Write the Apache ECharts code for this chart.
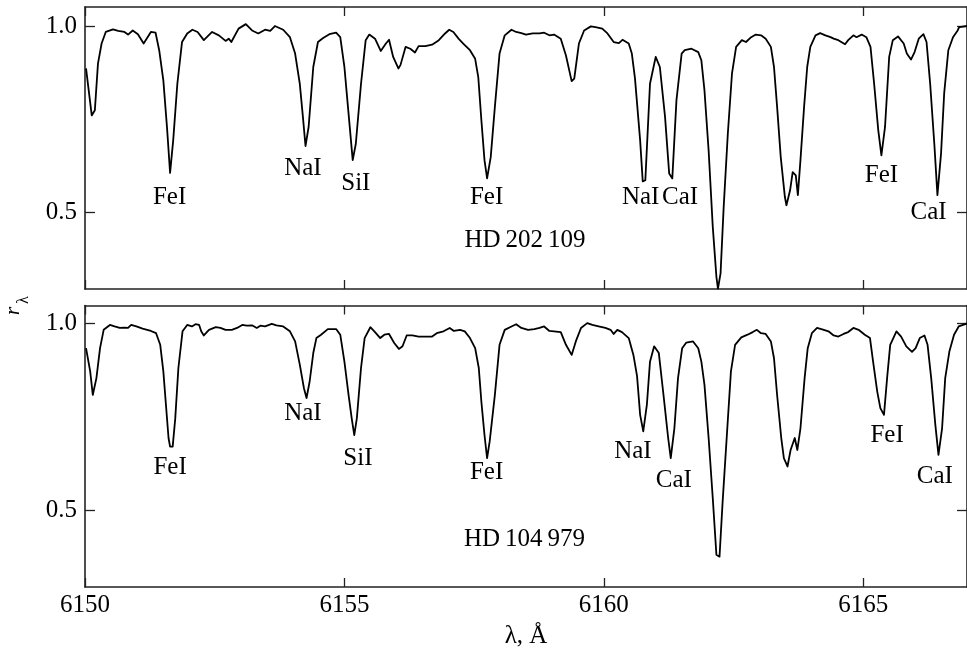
<!DOCTYPE html>
<html>
<head>
<meta charset="utf-8">
<script src="https://cdn.jsdelivr.net/npm/echarts@6/dist/echarts.min.js"></script>
<style>
  html, body { margin: 0; padding: 0; background: #fff; }
  #chart { width: 967px; height: 652px; }
</style>
</head>
<body>
<div id="chart"></div>
<script>
// Residual intensity r_lambda versus wavelength (Angstrom) for two stars.
const waveTicks = [6150, 6155, 6160, 6165];
const fluxTicks = [0.5, 1.0];

// [wavelength, r_lambda]
const topSpectrum = [
  [6150.02,0.886],[6150.13,0.760],[6150.19,0.774],[6150.25,0.899],[6150.32,0.953],[6150.40,0.984],
  [6150.54,0.991],[6150.64,0.987],[6150.76,0.984],[6150.83,0.977],[6150.92,0.988],[6151.02,0.978],
  [6151.13,0.953],[6151.27,0.984],[6151.36,0.982],[6151.43,0.935],[6151.51,0.854],[6151.58,0.729],
  [6151.64,0.606],[6151.70,0.693],[6151.78,0.845],[6151.87,0.957],[6151.97,0.980],[6152.07,0.990],
  [6152.17,0.984],[6152.29,0.962],[6152.45,0.984],[6152.58,0.975],[6152.71,0.960],[6152.77,0.966],
  [6152.82,0.957],[6152.96,0.993],[6153.10,1.005],[6153.22,0.988],[6153.34,0.980],[6153.47,0.990],
  [6153.57,0.987],[6153.66,1.000],[6153.82,0.990],[6153.95,0.970],[6154.05,0.926],[6154.14,0.845],
  [6154.20,0.756],[6154.25,0.678],[6154.31,0.729],[6154.40,0.890],[6154.49,0.957],[6154.59,0.968],
  [6154.71,0.978],[6154.84,0.982],[6154.92,0.970],[6155.00,0.890],[6155.08,0.765],[6155.16,0.640],
  [6155.22,0.684],[6155.32,0.845],[6155.41,0.962],[6155.48,0.977],[6155.59,0.966],[6155.70,0.933],
  [6155.80,0.953],[6155.86,0.963],[6155.94,0.917],[6156.04,0.886],[6156.08,0.895],[6156.18,0.944],
  [6156.27,0.939],[6156.36,0.929],[6156.43,0.946],[6156.56,0.946],[6156.69,0.950],[6156.82,0.962],
  [6156.94,0.980],[6157.02,0.990],[6157.10,0.984],[6157.20,0.966],[6157.29,0.953],[6157.42,0.935],
  [6157.52,0.912],[6157.58,0.863],[6157.64,0.747],[6157.70,0.640],[6157.75,0.591],[6157.82,0.648],
  [6157.90,0.783],[6157.99,0.926],[6158.09,0.975],[6158.22,0.990],[6158.31,0.984],[6158.41,0.981],
  [6158.50,0.977],[6158.63,0.980],[6158.76,0.980],[6158.85,0.982],[6158.95,0.975],[6159.04,0.977],
  [6159.17,0.966],[6159.27,0.921],[6159.38,0.852],[6159.43,0.859],[6159.52,0.953],[6159.62,0.988],
  [6159.75,0.999],[6159.84,0.997],[6159.97,0.993],[6160.07,0.980],[6160.19,0.957],[6160.29,0.954],
  [6160.36,0.963],[6160.48,0.953],[6160.54,0.926],[6160.60,0.860],[6160.70,0.693],[6160.75,0.583],
  [6160.80,0.586],[6160.89,0.845],[6161.00,0.917],[6161.08,0.890],[6161.18,0.756],[6161.26,0.604],
  [6161.32,0.591],[6161.40,0.801],[6161.50,0.926],[6161.56,0.935],[6161.69,0.939],[6161.82,0.930],
  [6161.88,0.908],[6161.94,0.827],[6162.02,0.666],[6162.10,0.461],[6162.17,0.327],[6162.20,0.295],
  [6162.25,0.336],[6162.31,0.514],[6162.39,0.711],[6162.47,0.872],[6162.55,0.944],[6162.66,0.962],
  [6162.74,0.957],[6162.84,0.970],[6162.93,0.977],[6163.03,0.975],[6163.12,0.966],[6163.22,0.944],
  [6163.28,0.890],[6163.34,0.783],[6163.41,0.648],[6163.49,0.541],[6163.52,0.519],[6163.59,0.559],
  [6163.64,0.608],[6163.70,0.599],[6163.74,0.546],[6163.79,0.640],[6163.86,0.783],[6163.92,0.890],
  [6163.98,0.944],[6164.08,0.975],[6164.17,0.981],[6164.27,0.975],[6164.37,0.970],[6164.43,0.966],
  [6164.52,0.962],[6164.65,0.951],[6164.71,0.962],[6164.81,0.975],[6164.87,0.970],[6164.97,0.977],
  [6165.06,0.970],[6165.14,0.944],[6165.21,0.845],[6165.29,0.720],[6165.35,0.653],[6165.42,0.729],
  [6165.50,0.917],[6165.57,0.962],[6165.67,0.972],[6165.78,0.953],[6165.84,0.926],[6165.92,0.910],
  [6165.99,0.930],[6166.07,0.966],[6166.16,0.978],[6166.22,0.957],[6166.29,0.845],[6166.37,0.684],
  [6166.43,0.546],[6166.50,0.658],[6166.56,0.819],[6166.64,0.935],[6166.73,0.970],[6166.82,0.988],
  [6166.85,0.997],[6167.00,1.000]
];

const bottomSpectrum = [
  [6150.02,0.934],[6150.10,0.872],[6150.15,0.809],[6150.22,0.854],[6150.29,0.934],[6150.36,0.983],
  [6150.48,0.996],[6150.57,0.992],[6150.67,0.988],[6150.76,0.989],[6150.83,0.988],[6150.89,0.996],
  [6150.99,0.992],[6151.11,0.986],[6151.27,0.980],[6151.37,0.974],[6151.45,0.943],[6151.51,0.872],
  [6151.56,0.783],[6151.61,0.694],[6151.64,0.671],[6151.69,0.671],[6151.74,0.747],[6151.80,0.881],
  [6151.88,0.979],[6151.97,0.996],[6152.06,0.992],[6152.13,0.998],[6152.20,0.996],[6152.24,0.979],
  [6152.29,0.968],[6152.39,0.983],[6152.52,0.990],[6152.61,0.988],[6152.71,0.983],[6152.83,0.983],
  [6152.93,0.988],[6153.03,0.996],[6153.12,0.994],[6153.22,0.995],[6153.31,0.988],[6153.38,0.994],
  [6153.47,0.992],[6153.60,0.999],[6153.69,0.995],[6153.82,0.992],[6153.95,0.979],[6154.05,0.952],
  [6154.14,0.890],[6154.22,0.827],[6154.27,0.801],[6154.33,0.845],[6154.40,0.921],[6154.46,0.961],
  [6154.55,0.970],[6154.68,0.985],[6154.84,0.985],[6154.92,0.970],[6155.00,0.898],[6155.08,0.809],
  [6155.14,0.747],[6155.19,0.702],[6155.24,0.747],[6155.32,0.881],[6155.39,0.961],[6155.50,0.990],
  [6155.59,0.977],[6155.69,0.961],[6155.77,0.970],[6155.86,0.972],[6155.96,0.948],[6156.05,0.932],
  [6156.12,0.939],[6156.20,0.968],[6156.31,0.968],[6156.43,0.965],[6156.56,0.965],[6156.69,0.965],
  [6156.78,0.974],[6156.91,0.979],[6157.03,0.988],[6157.11,0.980],[6157.23,0.983],[6157.32,0.979],
  [6157.42,0.961],[6157.52,0.934],[6157.59,0.881],[6157.64,0.791],[6157.70,0.702],[6157.75,0.640],
  [6157.80,0.685],[6157.90,0.809],[6157.99,0.943],[6158.09,0.983],[6158.22,0.992],[6158.31,0.998],
  [6158.41,0.988],[6158.54,0.983],[6158.66,0.985],[6158.76,0.988],[6158.85,0.992],[6158.95,0.980],
  [6159.04,0.979],[6159.17,0.977],[6159.27,0.943],[6159.38,0.916],[6159.46,0.952],[6159.56,0.988],
  [6159.68,1.001],[6159.78,0.996],[6159.90,0.992],[6160.03,0.988],[6160.13,0.983],[6160.19,0.972],
  [6160.26,0.983],[6160.35,0.977],[6160.48,0.961],[6160.57,0.916],[6160.64,0.860],[6160.70,0.756],
  [6160.76,0.712],[6160.83,0.783],[6160.89,0.898],[6160.97,0.939],[6161.06,0.921],[6161.15,0.809],
  [6161.24,0.694],[6161.29,0.640],[6161.36,0.720],[6161.43,0.854],[6161.51,0.934],[6161.59,0.949],
  [6161.72,0.952],[6161.82,0.934],[6161.88,0.898],[6161.94,0.836],[6162.02,0.694],[6162.10,0.533],
  [6162.17,0.382],[6162.23,0.377],[6162.29,0.524],[6162.38,0.720],[6162.45,0.872],[6162.53,0.943],
  [6162.65,0.963],[6162.77,0.970],[6162.87,0.977],[6162.95,0.983],[6163.03,0.974],[6163.12,0.972],
  [6163.22,0.952],[6163.28,0.907],[6163.34,0.809],[6163.42,0.694],[6163.47,0.640],[6163.54,0.618],
  [6163.60,0.662],[6163.68,0.694],[6163.73,0.662],[6163.79,0.720],[6163.87,0.854],[6163.93,0.934],
  [6164.01,0.974],[6164.11,0.988],[6164.24,0.983],[6164.33,0.979],[6164.43,0.968],[6164.52,0.965],
  [6164.62,0.972],[6164.71,0.977],[6164.81,0.988],[6164.91,0.983],[6165.03,0.970],[6165.13,0.961],
  [6165.19,0.898],[6165.27,0.818],[6165.33,0.774],[6165.40,0.756],[6165.46,0.854],[6165.52,0.943],
  [6165.64,0.979],[6165.73,0.965],[6165.83,0.939],[6165.94,0.924],[6166.01,0.934],[6166.09,0.961],
  [6166.18,0.968],[6166.24,0.943],[6166.31,0.854],[6166.39,0.729],[6166.45,0.649],[6166.52,0.720],
  [6166.58,0.854],[6166.66,0.925],[6166.75,0.970],[6166.84,0.992],[6167.00,1.000]
];

// Line identifications: [wavelength, r_lambda, text]
const topLineLabels = [
  [6151.63, 0.540, 'FeI'], [6154.20, 0.618, 'NaI'], [6155.22, 0.578, 'SiI'],
  [6157.74, 0.540, 'FeI'], [6160.71, 0.540, 'NaI'], [6161.47, 0.540, 'CaI'],
  [6165.35, 0.599, 'FeI'], [6166.26, 0.500, 'CaI'],
  [6158.48, 0.425, 'HD\u2009202\u2009109']
];
const bottomLineLabels = [
  [6151.64, 0.615, 'FeI'], [6154.20, 0.759, 'NaI'], [6155.26, 0.640, 'SiI'],
  [6157.74, 0.602, 'FeI'], [6160.56, 0.658, 'NaI'], [6161.35, 0.582, 'CaI'],
  [6165.46, 0.702, 'FeI'], [6166.38, 0.591, 'CaI'],
  [6158.47, 0.424, 'HD\u2009104\u2009979']
];

const waveRange = [6150, 6167];
const topFluxRange = [0.2942, 1.051];
const bottomFluxRange = [0.296, 1.048];

const FONT = '"Liberation Serif", "Times New Roman", serif';
const INK = '#000';
const FRAME = '#222';

function xAxisFor(grid, position, withLabels) {
  return {
    type: 'value', gridIndex: grid, position: position,
    min: waveRange[0], max: waveRange[1],
    axisLine: { show: true, onZero: false, lineStyle: { color: FRAME, width: 1.6 } },
    axisTick: { show: true, inside: true, length: 9, customValues: waveTicks,
                lineStyle: { color: FRAME, width: 1.3 } },
    axisLabel: { show: withLabels, customValues: waveTicks, margin: 6,
                 fontFamily: FONT, fontSize: 25, color: INK,
                 formatter: v => String(v) },
    splitLine: { show: false }
  };
}
function yAxisFor(grid, position, range, withLabels) {
  return {
    type: 'value', gridIndex: grid, position: position,
    min: range[0], max: range[1],
    axisLine: { show: true, onZero: false, lineStyle: { color: FRAME, width: 1.6 } },
    axisTick: { show: true, inside: true, length: 10, customValues: fluxTicks,
                lineStyle: { color: FRAME, width: 1.3 } },
    axisLabel: { show: withLabels, customValues: fluxTicks, margin: 8,
                 fontFamily: FONT, fontSize: 25, color: INK,
                 formatter: v => v.toFixed(1) },
    splitLine: { show: false }
  };
}
function spectrumSeries(idx, data) {
  return {
    type: 'line', xAxisIndex: idx, yAxisIndex: idx, data: data,
    showSymbol: false, symbol: 'none', smooth: false,
    lineStyle: { color: INK, width: 1.8, join: 'round' }, z: 3
  };
}
function labelSeries(idx, data) {
  return {
    type: 'scatter', xAxisIndex: idx, yAxisIndex: idx, data: data,
    symbolSize: 1, itemStyle: { color: 'transparent', opacity: 1 }, z: 4,
    label: { show: true, position: 'inside', formatter: p => p.data[2],
             fontFamily: FONT, fontSize: 25, color: INK, opacity: 1 }
  };
}

const chart = echarts.init(document.getElementById('chart'), null, { renderer: 'canvas' });
chart.setOption({
  animation: false,
  backgroundColor: '#fff',
  grid: [
    { left: 85, top: 7, width: 890, height: 282 },
    { left: 85, top: 305.5, width: 890, height: 281.5 }
  ],
  xAxis: [
    xAxisFor(0, 'bottom', false),
    xAxisFor(0, 'top', false),
    Object.assign(xAxisFor(1, 'bottom', true), {
      name: 'λ, Å', nameLocation: 'middle', nameGap: 37,
      nameTextStyle: { fontFamily: FONT, fontSize: 25, color: INK }
    }),
    xAxisFor(1, 'top', false)
  ],
  yAxis: [
    yAxisFor(0, 'left', topFluxRange, true),
    yAxisFor(0, 'right', topFluxRange, false),
    yAxisFor(1, 'left', bottomFluxRange, true),
    yAxisFor(1, 'right', bottomFluxRange, false)
  ],
  series: [
    spectrumSeries(0, topSpectrum),
    spectrumSeries(2, bottomSpectrum),
    labelSeries(0, topLineLabels),
    labelSeries(2, bottomLineLabels)
  ],
  graphic: [
    { type: 'text', x: 13, y: 311, rotation: Math.PI / 2,
      style: { text: 'r', fontFamily: FONT, fontStyle: 'italic', fontSize: 22,
               fill: INK, align: 'center', verticalAlign: 'middle' } },
    { type: 'text', x: 24, y: 300, rotation: Math.PI / 2,
      style: { text: 'λ', fontFamily: FONT, fontSize: 16,
               fill: INK, align: 'center', verticalAlign: 'middle' } }
  ]
});
</script>
</body>
</html>
